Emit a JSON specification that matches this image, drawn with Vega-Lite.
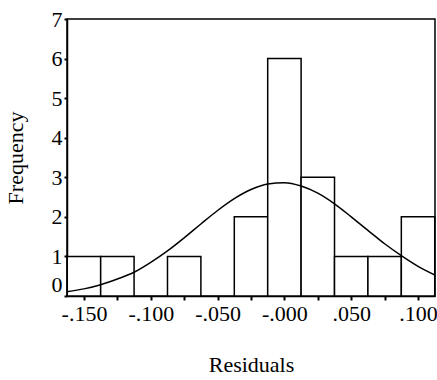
{
  "$schema": "https://vega.github.io/schema/vega-lite/v6.json",
  "width": 368,
  "height": 277,
  "autosize": "none",
  "padding": {"left": 67, "top": 19, "right": 2, "bottom": 84},
  "background": "white",
  "config": {
    "view": {"stroke": "black", "strokeWidth": 1.5},
    "font": "Liberation Serif",
    "axis": {
      "labelFont": "Liberation Serif",
      "titleFont": "Liberation Serif",
      "labelFontSize": 22,
      "titleFontSize": 22,
      "titleFontWeight": "normal",
      "labelColor": "black",
      "titleColor": "black",
      "domainColor": "black",
      "domainWidth": 1.5,
      "tickColor": "black",
      "tickWidth": 2,
      "labelOverlap": false,
      "grid": false
    }
  },
  "datasets": {
    "bins": [
      {"x": -0.1625, "hi": -0.1375, "y": 1},
      {"x": -0.1375, "hi": -0.1125, "y": 1},
      {"x": -0.0875, "hi": -0.0625, "y": 1},
      {"x": -0.0375, "hi": -0.0125, "y": 2},
      {"x": -0.0125, "hi": 0.0125, "y": 6},
      {"x": 0.0125, "hi": 0.0375, "y": 3},
      {"x": 0.0375, "hi": 0.0625, "y": 1},
      {"x": 0.0625, "hi": 0.0875, "y": 1},
      {"x": 0.0875, "hi": 0.1125, "y": 2}
    ],
    "curve": [
      {"x": -0.1627, "y": 0.11},
      {"x": -0.15, "y": 0.18},
      {"x": -0.1375, "y": 0.286},
      {"x": -0.125, "y": 0.43},
      {"x": -0.1125, "y": 0.6},
      {"x": -0.1, "y": 0.85},
      {"x": -0.0875, "y": 1.14},
      {"x": -0.075, "y": 1.47},
      {"x": -0.0625, "y": 1.82},
      {"x": -0.05, "y": 2.16},
      {"x": -0.0375, "y": 2.46},
      {"x": -0.025, "y": 2.69},
      {"x": -0.0125, "y": 2.83},
      {"x": 0.0, "y": 2.865},
      {"x": 0.0125, "y": 2.78},
      {"x": 0.025, "y": 2.6},
      {"x": 0.0375, "y": 2.33},
      {"x": 0.05, "y": 2.0},
      {"x": 0.0625, "y": 1.66},
      {"x": 0.075, "y": 1.32},
      {"x": 0.0875, "y": 1.02},
      {"x": 0.1, "y": 0.75},
      {"x": 0.1127, "y": 0.53}
    ]
  },
  "encoding": {
    "x": {
      "field": "x",
      "type": "quantitative",
      "scale": {"domain": [-0.1627, 0.1127], "nice": false, "zero": false},
      "axis": {
        "title": "Residuals",
        "values": [-0.15, -0.125, -0.1, -0.075, -0.05, -0.025, 0, 0.025, 0.05, 0.075, 0.1],
        "labelExpr": "round(datum.value*1000)==-150?'-.150':round(datum.value*1000)==-100?'-.100':round(datum.value*1000)==-50?'-.050':round(datum.value*1000)==0?'-.000':round(datum.value*1000)==50?'.050':round(datum.value*1000)==100?'.100':''",
        "tickSize": 4,
        "labelPadding": 3,
        "labelFlush": false,
        "titlePadding": 30
      }
    },
    "y": {
      "field": "y",
      "type": "quantitative",
      "scale": {"domain": [0, 7], "nice": false},
      "axis": {
        "title": "Frequency",
        "values": [0, 1, 2, 3, 4, 5, 6, 7],
        "tickSize": 3,
        "labelPadding": 2,
        "labelFlush": false,
        "labelBound": false,
        "labelBaseline": {"condition": {"test": "datum.value == 0", "value": "bottom"}, "value": "middle"},
        "titlePadding": 24
      }
    }
  },
  "layer": [
    {
      "data": {"name": "bins"},
      "mark": {"type": "rect", "fill": "white", "stroke": "black", "strokeWidth": 1.5},
      "encoding": {
        "x2": {"field": "hi"},
        "y2": {"datum": 0}
      }
    },
    {
      "data": {"name": "curve"},
      "mark": {"type": "line", "color": "black", "strokeWidth": 1.5, "interpolate": "monotone", "clip": true}
    }
  ]
}
